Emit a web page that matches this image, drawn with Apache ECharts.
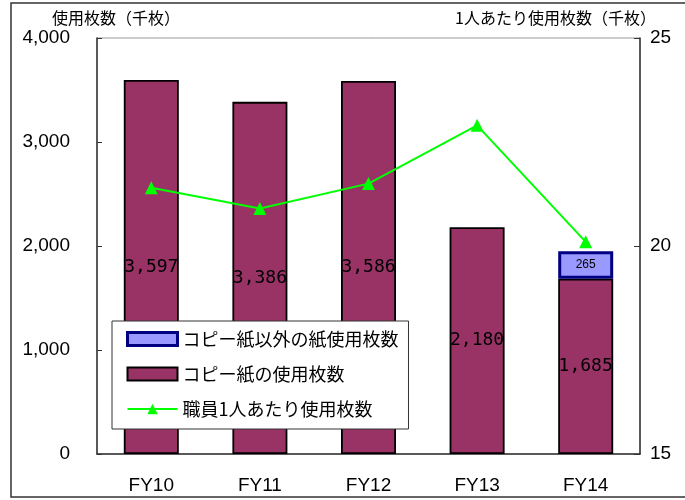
<!DOCTYPE html>
<html>
<head>
<meta charset="utf-8">
<script src="https://cdn.jsdelivr.net/npm/echarts@6/dist/echarts.min.js"></script>
<style>
html, body { margin: 0; padding: 0; background: #fff; }
#main { width: 685px; height: 500px; }
</style>
</head>
<body>
<div id="main"></div>
<script>
var years = ['FY10', 'FY11', 'FY12', 'FY13', 'FY14'];
var copyPaper = [3597, 3386, 3586, 2180, 1685];
var otherPaper = [null, null, null, null, 265];
var perPerson = [21.4, 20.9, 21.5, 22.9, 20.1];
var seriesNames = ['コピー紙以外の紙使用枚数', 'コピー紙の使用枚数', '職員1人あたり使用枚数'];
var leftName = '使用枚数（千枚）';
var rightName = '1人あたり使用枚数（千枚）';

var jp = 'Noto Sans CJK JP';
var latin = 'Liberation Sans';

var chart = echarts.init(document.getElementById('main'));

function comma(v) {
  return Number(v).toLocaleString('en-US');
}

var option = {
  animation: false,
  backgroundColor: '#fff',
  grid: {
    left: 97, right: 45, top: 38, bottom: 46,
    show: true, borderColor: '#999', borderWidth: 1
  },
  graphic: [
    {
      type: 'rect', silent: true,
      shape: { x: 11, y: 3, width: 700, height: 494 },
      style: { fill: 'none', stroke: '#333', lineWidth: 1.5 }
    },
    {
      type: 'text', left: 52, top: 10,
      style: { text: leftName, font: '16px "' + jp + '"', fill: '#000' }
    },
    {
      type: 'text', left: 455, top: 10,
      style: { text: rightName, font: '16px "' + jp + '"', fill: '#000' }
    }
  ],
  legend: {
    orient: 'vertical',
    left: 112, top: 321,
    padding: [9, 10, 11, 14],
    itemGap: 17,
    itemWidth: 50, itemHeight: 13,
    backgroundColor: '#fff',
    borderColor: '#333', borderWidth: 1,
    textStyle: { fontFamily: jp, fontSize: 18, color: '#000', lineHeight: 18 },
    data: [
      { name: seriesNames[0], icon: 'rect',
        itemStyle: { color: '#9999ff', borderColor: '#000080', borderWidth: 3 } },
      { name: seriesNames[1], icon: 'rect',
        itemStyle: { color: '#993366', borderColor: '#000', borderWidth: 2 } },
      { name: seriesNames[2] }
    ]
  },
  xAxis: {
    type: 'category',
    data: years,
    axisLine: { lineStyle: { color: '#333', width: 1.5 } },
    axisTick: { inside: true, length: 5, lineStyle: { color: '#333' } },
    axisLabel: { margin: 22, fontFamily: latin, fontSize: 19, color: '#000' }
  },
  yAxis: [
    {
      type: 'value', min: 0, max: 4000, interval: 1000,
      splitLine: { show: false },
      axisLine: { show: true, lineStyle: { color: '#333', width: 1.5 } },
      axisTick: { show: true, inside: true, length: 5, lineStyle: { color: '#333' } },
      axisLabel: { margin: 27, fontFamily: latin, fontSize: 19, color: '#000', formatter: comma }
    },
    {
      type: 'value', min: 15, max: 25, interval: 5,
      splitLine: { show: false },
      axisLine: { show: true, lineStyle: { color: '#333', width: 1.5 } },
      axisTick: { show: true, inside: true, length: 6, lineStyle: { color: '#333' } },
      axisLabel: { margin: 10, fontFamily: latin, fontSize: 19, color: '#000' }
    }
  ],
  series: [
    {
      name: seriesNames[1],
      type: 'bar', stack: 'paper', barWidth: 55,
      data: copyPaper,
      itemStyle: { color: '#993366', borderColor: '#000', borderWidth: 1.8 },
      label: {
        show: true, position: 'inside', color: '#000',
        fontFamily: 'DejaVu Sans Mono', fontSize: 18,
        formatter: function (p) { return comma(p.value); }
      }
    },
    {
      name: seriesNames[0],
      type: 'bar', stack: 'paper', barWidth: 55,
      data: otherPaper,
      itemStyle: { color: '#9999ff', borderColor: '#000080', borderWidth: 3 },
      label: {
        show: true, position: 'inside', color: '#000',
        fontFamily: latin, fontSize: 12,
        formatter: function (p) { return comma(p.value); }
      }
    },
    {
      name: seriesNames[2],
      type: 'line', yAxisIndex: 1, z: 5,
      data: perPerson,
      symbol: 'triangle', symbolSize: 13,
      lineStyle: { color: '#00ff00', width: 2 },
      itemStyle: { color: '#00ff00' }
    }
  ]
};

chart.setOption(option);
</script>
</body>
</html>
